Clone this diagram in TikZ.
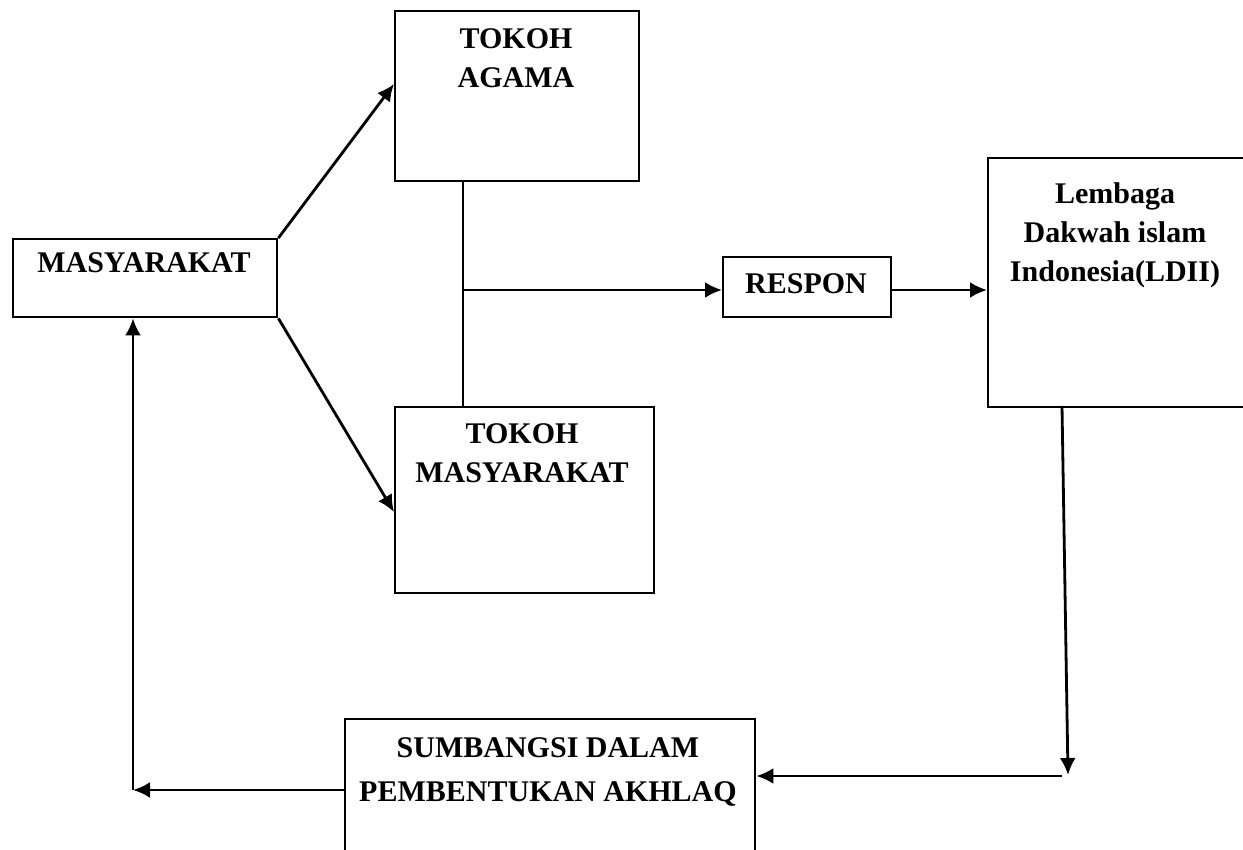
\documentclass[tikz,border=0pt]{standalone}
\usepackage{fontspec}
\setmainfont{Liberation Serif}
\usetikzlibrary{arrows.meta}
\begin{document}
\begin{tikzpicture}[x=0.5pt, y=-0.5pt,
    kotak/.style={draw, line width=1.2pt, anchor=north west, inner sep=0pt},
    teks/.style={anchor=north, inner sep=0pt, align=center, font=\fontsize{15}{19.5}\selectfont\bfseries},
    panah/.style={-{Latex[length=8.5pt,width=8pt]}, line width=1.4pt}]
    \useasboundingbox (0,0) rectangle (1243,850);
    \clip (0,0) rectangle (1243,850);

    % kotak-kotak
    \node[kotak, minimum width=132pt, minimum height=39pt] (masy) at (12,238) {};
    \node[kotak, minimum width=122pt, minimum height=85pt] (agama) at (394,10) {};
    \node[kotak, minimum width=129.5pt, minimum height=93pt] (tmasy) at (394,406) {};
    \node[kotak, minimum width=84pt, minimum height=30pt] (respon) at (722,256) {};
    \node[kotak, minimum width=140pt, minimum height=124.5pt] (ldii) at (987,157) {};
    \node[kotak, minimum width=205pt, minimum height=90pt] (sumb) at (344,718) {};

    % teks
    \node[teks] (masyT) at (144,252) {MASYARAKAT};
    \node[teks] (agamaT) at (516,28) {TOKOH\\AGAMA};
    \node[teks] (tmasyT) at (522,423) {TOKOH\\MASYARAKAT};
    \node[teks] (responT) at (806,273) {RESPON};
    \node[teks] (ldiiT) at (1115,182) {Lembaga\\Dakwah islam\\Indonesia(LDII)};
    \node[teks] (sumbT) at (548,737) {SUMBANGSI DALAM\\[2.5pt]PEMBENTUKAN AKHLAQ};

    % titik bantu
    \coordinate (j) at (463,290);
    \coordinate (l) at (1062,406);
    \coordinate (d) at (1068,775);
    \coordinate (e) at (1062,776);
    \coordinate (c) at (133,790);

    % garis dan panah
    \draw[panah] (masy.north east) -- ([yshift=-37pt]agama.north west);
    \draw[panah] (masy.south east) -- ([yshift=-53pt]tmasy.north west);
    \draw[line width=1.4pt] (agama.south -| j) -- (tmasy.north -| j);
    \draw[panah] (j) -- (respon.west |- j);
    \draw[panah] (respon.east |- j) -- (ldii.west |- j);
    \draw[panah] (l) -- (d);
    \draw[panah] (e) -- (sumb.east |- e);
    \draw[panah] (sumb.west |- c) -- (c);
    \draw[panah] (c) -- (masy.south -| c);
\end{tikzpicture}
\end{document}
